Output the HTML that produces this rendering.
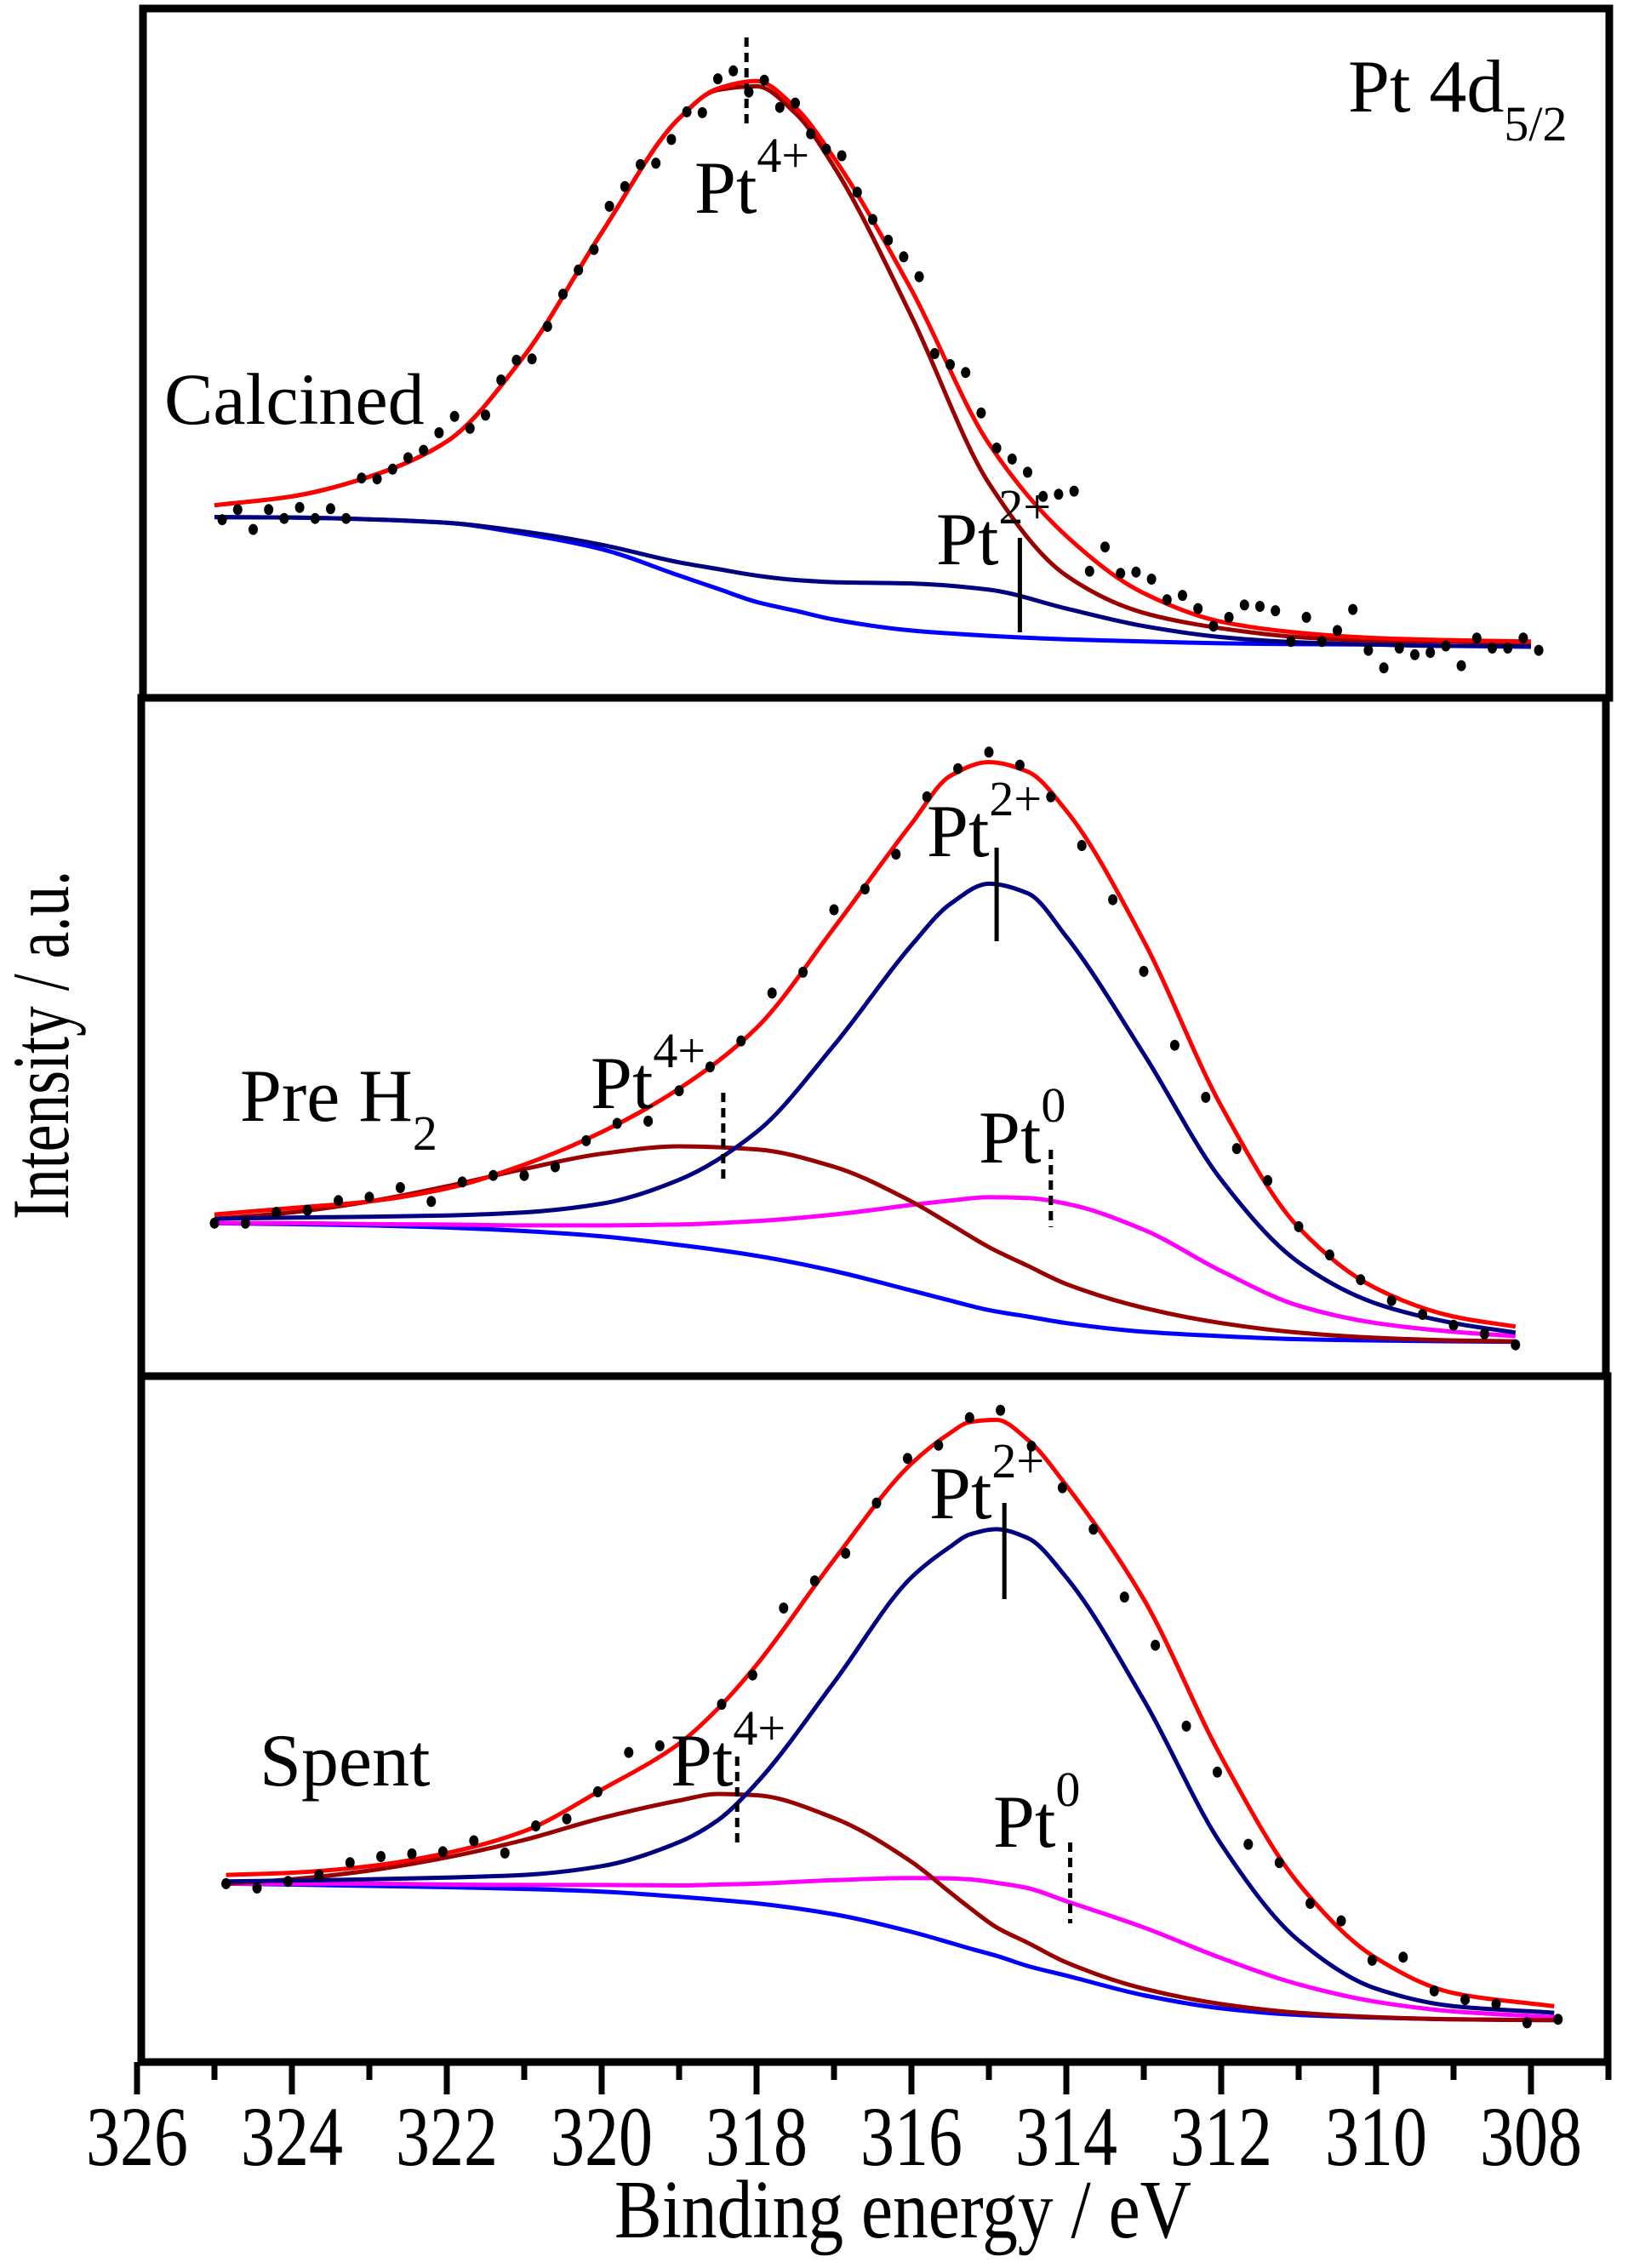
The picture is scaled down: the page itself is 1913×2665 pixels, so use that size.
<!DOCTYPE html>
<html><head><meta charset="utf-8"><style>
html,body{margin:0;padding:0;background:#fff;}
svg{display:block;}
text{font-family:"Liberation Serif","Times New Roman",serif;fill:#000;}
</style></head><body>
<svg id="chart" xmlns="http://www.w3.org/2000/svg" width="1913" height="2665" viewBox="0 0 1913 2665">
<g id="frames"></g>
<g id="plot"></g>
<g id="axis"></g>
<text transform="translate(80,1228) rotate(-90)" text-anchor="middle" font-size="95" textLength="410" lengthAdjust="spacingAndGlyphs">Intensity / a.u.</text>
<text x="722" y="2629" font-size="98" textLength="678" lengthAdjust="spacingAndGlyphs">Binding energy / eV</text>
</svg>
<script>
// ---- data (binding energy in eV, intensity in a.u.) ----
const tickLabels = ["326","324","322","320","318","316","314","312","310","308"];
const majorTicks = [326,324,322,320,318,316,314,312,310,308];
const minorTicks = [325,323,321,319,317,315,313,311,309,307];

// Panel 1: Calcined
const energy1 = [325,324,323,322,321,320,319,318.5,318,317.5,317,316,315,314,313,312,311,310,309,308];
const envelope1 = [37,39,43.5,51.5,71,99,125,131.8,133.5,127.5,116,86,51,30,17,10.5,8,6.8,6.3,6];
const pt4Comp1 = [37,39,43.5,51.5,71,99,125,131.5,132.3,126.2,114,80,42,21,12.5,9,7,6.2,6,5.8];
const pt2Comp1 = [34.3,34.2,33.8,33,31,28,24,22.5,21,20,19.5,19.2,17.8,13.5,9.5,7,5.8,5.3,5,5];
const background1 = [34.3,34.2,33.8,33,30.5,27,21,18,15,13,11,8.5,7.3,6.5,6,5.6,5.4,5.3,5,4.8];
const dotStart1 = 324.9, dotStep1 = 0.2;
const dots1 = [33.7,36,31.5,36,34,36.5,34,36.2,34,43.2,43,45.2,47.8,49.5,53.5,57.2,54.5,57.5,65.5,70,
70.3,77.7,85,90.5,95.2,105,109.5,114.5,114.8,120.2,126.5,126.3,134,135.8,131,133.7,127.5,128.5,121.5,118,
116.5,108.2,102,97.3,93.5,89,71.5,69,67.2,58,50,47.5,44.5,39,39.5,40.2,22,27.5,21.5,21.8,
20.2,15.5,16.5,13.5,9.5,11.5,14.3,14,13,6,11.5,6,8.5,13.3,4,0,4.5,3,3.5,5,0.5,6.8,4.5,4.5,6.8,4];

// Panel 2: Pre H2
const energy2 = [325,324,323,322,321,320,319,318,317,316,315.5,315,314.5,314,313,312,311,310,309,308.2];
const envelope2 = [31,32.5,34,37,42.5,50,60,74,97,121,132,135.2,133,124,94,56,28,14,7.5,5.2];
const pt2Comp2 = [30,30.3,30.5,30.8,31.5,33.5,39,50,70,93,102.5,107.2,105,95,68,39,20,10.5,6,3.8];
const pt4Comp2 = [30,31.5,34,37.5,41.5,45,46.7,46,42,34,28.8,23.5,19.2,15,9.5,6,3.8,2.6,2,1.8];
const pt0Comp2 = [29,29,28.8,28.7,28.5,28.5,28.7,29.5,31,33.2,34.2,35,34.8,33.5,27.5,18,10,6,4,3];
const background2 = [29,28.8,28.5,28,27.2,26,24,21.5,18,13.5,11.2,9,7.5,6,4,3,2.3,2,1.8,1.7];
const dotStart2 = 325, dotStep2 = 0.4;
const dots2 = [29,29,31.5,32,34.2,35,37.2,34,38.5,40,40,42,48,52,52.5,59.5,65,71,82,86.8,101.2,106,114,127.2,
133.7,137.5,134.5,127.2,116,103.5,87,70,58,46.2,38.8,28.2,21.7,16,11.2,8,5.5,3.5,1];

// Panel 3: Spent
const energy3 = [324.85,324,323,322,321,320,319,318.5,318,317,316,315.5,315.25,314.9,314.5,314,313,312,311,310,309,307.7];
const envelope3 = [36,36.5,38,41,46,55.5,66,74,84,108,130,137,139.5,140,135.5,125,99,63,34,17,9,6];
const pt2Comp3 = [34.5,34.7,35,35.4,36,38,43.5,48.5,57,80,104,111,113.8,115,113,104,76,43,21,10,6,4.5];
const pt4Comp3 = [34,35,37,40,44,49,53,54.5,54.2,49,39,32,28.5,24,20.5,16,10,6.5,4.5,3.5,3,2.8];
const pt0Comp3 = [34,34,34,33.8,33.7,33.7,33.6,33.8,34,34.8,35.3,35.2,35,34.2,33,30,24,17,11,7,4.8,3.5];
const background3 = [34,33.8,33.5,33.2,32.8,32.2,31,30.3,29.5,27,23,20.5,19.2,17.5,15.2,13,8.5,5.5,4,3.4,3,2.8];
const dotStart3 = 324.85, dotStep3 = 0.4;
const dots3 = [34,33,34.5,36,38.8,40.2,40.8,41.3,43.8,41,47.2,48.8,55,64,65.5,null,75,81.7,97,103.2,109.5,121,131.2,
134.2,140.5,142.2,134,124.5,115,99.5,88.5,70,59.5,43,38.8,29.5,25.5,16.5,17.2,9.5,7.5,6.5,2.2,3];

// ---- layout ----
const NS = "http://www.w3.org/2000/svg";
function xScale(e){ return 1799 + (308 - e) * 91; }
function mk(tag, attrs, parent){ const el=document.createElementNS(NS,tag); for(const k in attrs) el.setAttribute(k,attrs[k]); parent.appendChild(el); return el; }
// monotone cubic (Fritsch-Carlson) through points sorted by x
function smoothPath(pts){
  const n=pts.length, xs=pts.map(p=>p[0]), ys=pts.map(p=>p[1]);
  const h=[], d=[];
  for(let i=0;i<n-1;i++){ h.push(xs[i+1]-xs[i]); d.push((ys[i+1]-ys[i])/h[i]); }
  const m=new Array(n);
  m[0]=d[0]; m[n-1]=d[n-2];
  for(let i=1;i<n-1;i++){
    if(d[i-1]*d[i]<=0) m[i]=0;
    else { const w1=2*h[i]+h[i-1], w2=h[i]+2*h[i-1]; m[i]=(w1+w2)/(w1/d[i-1]+w2/d[i]); }
  }
  let s="M"+xs[0].toFixed(1)+","+ys[0].toFixed(1);
  for(let i=0;i<n-1;i++){
    const c1x=xs[i]+h[i]/3, c1y=ys[i]+m[i]*h[i]/3;
    const c2x=xs[i+1]-h[i]/3, c2y=ys[i+1]-m[i+1]*h[i]/3;
    s+=" C"+c1x.toFixed(1)+","+c1y.toFixed(1)+" "+c2x.toFixed(1)+","+c2y.toFixed(1)+" "+xs[i+1].toFixed(1)+","+ys[i+1].toFixed(1);
  }
  return s;
}
const frames=document.getElementById('frames'), plot=document.getElementById('plot'), axis=document.getElementById('axis');

const panels = [
 {name:"calcined", top:10, sy:1.936, frame:[168,10,1891,820], energy:energy1,
  curves:[["background",background1,"#0000ff"],["pt2-component",pt2Comp1,"#000080"],["pt4-component",pt4Comp1,"#990000"],["envelope",envelope1,"#ff0000"]],
  dots:dots1, dotStart:dotStart1, dotStep:dotStep1},
 {name:"pre-h2", top:820, sy:1.96, frame:[166,820,1887,1617], energy:energy2,
  curves:[["background",background2,"#0000ff"],["pt0-component",pt0Comp2,"#ff00ff"],["pt4-component",pt4Comp2,"#990000"],["pt2-component",pt2Comp2,"#000080"],["envelope",envelope2,"#ff0000"]],
  dots:dots2, dotStart:dotStart2, dotStep:dotStep2},
 {name:"spent", top:1617, sy:1.945, frame:[166,1617,1889,2423], energy:energy3,
  curves:[["background",background3,"#0000ff"],["pt0-component",pt0Comp3,"#ff00ff"],["pt4-component",pt4Comp3,"#990000"],["pt2-component",pt2Comp3,"#000080"],["envelope",envelope3,"#ff0000"]],
  dots:dots3, dotStart:dotStart3, dotStep:dotStep3}
];

panels.forEach(p=>{
  const yS = v => p.top + (1500 - 10*v)/p.sy;
  const f=p.frame;
  const r=mk('rect',{x:f[0],y:f[1],width:f[2]-f[0],height:f[3]-f[1],fill:'none',stroke:'#000','stroke-width':9},frames);
  
  
  const g=mk('g',{},plot);
  
  
  p.curves.forEach(c=>{
    const pts=p.energy.map((e,i)=>[xScale(e), yS(c[1][i])]);
    const path=mk('path',{d:smoothPath(pts),fill:'none',stroke:c[2],'stroke-width':5,'stroke-linejoin':'round'},g);
    
    
  });
  p.dots.forEach((v,i)=>{
    if(v===null) return;
    const e=p.dotStart - i*p.dotStep;
    const d=mk('ellipse',{cx:xScale(e).toFixed(1),cy:yS(v).toFixed(1),rx:5.5,ry:6.5,fill:'#000'},g);
    
    
  });
});

// axis ticks + labels
majorTicks.forEach((e,i)=>{
  const t=mk('line',{x1:xScale(e),x2:xScale(e),y1:2423,y2:2461,stroke:'#000','stroke-width':7},axis);
  
  
  const l=mk('text',{x:(xScale(e)-60).toFixed(1),y:2544,'font-size':100,textLength:120,lengthAdjust:'spacingAndGlyphs'},axis);
  l.textContent=tickLabels[i];
  
  
});
minorTicks.forEach(e=>{
  const t=mk('line',{x1:xScale(e),x2:xScale(e),y1:2423,y2:2444,stroke:'#000','stroke-width':7},axis);
  
  
});

// annotations
const ann=mk('g',{},plot);


function label(name,x,y,main,sup,sub,fs){
  const t=mk('text',{x:x,y:y,'font-size':fs||88},ann);
  
  
  const a=mk('tspan',{},t); a.textContent=main;
  if(sup){ const s=mk('tspan',{dy:-48,'font-size':58},t); s.textContent=sup; }
  if(sub){ const s=mk('tspan',{dy:34,'font-size':58},t); s.textContent=sub; }
}
function marker(name,e,y1,y2,dashed){
  const l=mk('line',{x1:xScale(e),x2:xScale(e),y1:y1,y2:y2,stroke:'#000','stroke-width':5},ann);
  if(dashed) l.setAttribute('stroke-dasharray','11,7');
  
  
}
label('calcined-label',193,498,'Calcined',null,null,86);
label('pt4d-title',1584,131,'Pt 4d',null,'5/2',88);
label('calcined-pt4-label',816,250,'Pt','4+');
marker('calcined-pt4-marker',318.13,44,149,true);
label('calcined-pt2-label',1100,663,'Pt','2+');
marker('calcined-pt2-marker',314.6,632,743,false);

label('pre-h2-label',282,1317,'Pre H',null,'2',88);
label('pre-h2-pt4-label',694,1302,'Pt','4+');
marker('pre-h2-pt4-marker',318.43,1284,1391,true);
label('pre-h2-pt2-label',1089,1006,'Pt','2+');
marker('pre-h2-pt2-marker',314.9,996,1106,false);
label('pre-h2-pt0-label',1150,1366,'Pt','0');
marker('pre-h2-pt0-marker',314.2,1351,1442,true);

label('spent-label',305,2098,'Spent',null,null,88);
label('spent-pt4-label',788,2098,'Pt','4+');
marker('spent-pt4-marker',318.25,2064,2172,true);
label('spent-pt2-label',1092,1784,'Pt','2+');
marker('spent-pt2-marker',314.8,1766,1879,false);
label('spent-pt0-label',1167,2170,'Pt','0');
marker('spent-pt0-marker',313.95,2165,2260,true);
</script>
</body></html>
